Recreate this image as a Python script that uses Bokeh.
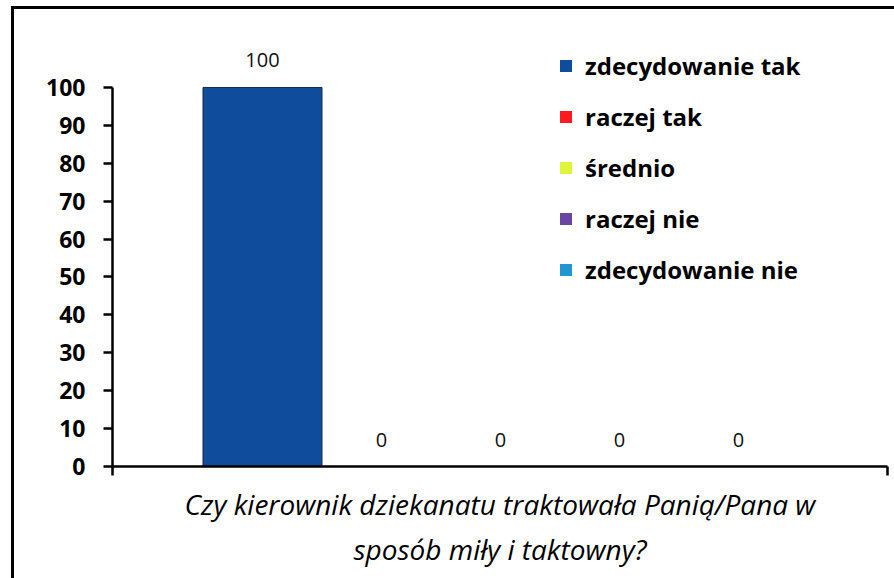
from bokeh.plotting import figure
from bokeh.models import (ColumnDataSource, Range1d, FixedTicker, Legend, LegendItem, LabelSet)
from bokeh.core.properties import value
from bokeh.layouts import column
from bokeh.embed import file_html
from bokeh.resources import INLINE

# ---- data ----
series = ["zdecydowanie tak", "raczej tak", "średnio", "raczej nie", "zdecydowanie nie"]
values = [100, 0, 0, 0, 0]
colors = ["#0F4C9C", "#FF1A22", "#DDF53A", "#6A45A2", "#2196D3"]
question = ["Czy kierownik dziekanatu traktowała Panią/Pana w", "sposób miły i taktowny?"]
y_ticks = [0, 10, 20, 30, 40, 50, 60, 70, 80, 90, 100]

FONT = "Open Sans"

x_pos = list(range(len(series)))
src = ColumnDataSource(dict(x=x_pos, top=values, color=colors, name=series,
                            lbl=[str(v) for v in values]))

x_start, x_end = -1.2605, 5.2521
p = figure(width=880, height=569, output_backend="svg", toolbar_location=None,
           x_range=Range1d(x_start, x_end), y_range=Range1d(0, 120.58),
           min_border_left=98, min_border_right=7, min_border_top=0,
           min_border_bottom=112)
p.outline_line_color = None
p.grid.visible = False
p.background_fill_color = "white"

bars = p.vbar(x="x", top="top", width=1.0, fill_color="color", line_color=None, source=src)
p.vbar(x="x", top="top", width=1.0, fill_alpha=0, line_color="#1b2a44", line_width=1, source=src)

labels = LabelSet(x="x", y="top", text="lbl", source=src, y_offset=27,
                  text_align="center", text_baseline="middle",
                  text_font=value(FONT), text_font_size=value("20px"),
                  text_color="#111111")
p.add_layout(labels)

# y axis
ya = p.yaxis[0]
ya.ticker = FixedTicker(ticks=y_ticks)
ya.bounds = (0, 100)
ya.axis_line_width = 2.5
ya.major_tick_line_width = 2.5
ya.major_tick_out = 9
ya.major_tick_in = 0
ya.minor_tick_line_color = None
ya.major_label_standoff = 18
ya.major_label_text_font = FONT
ya.major_label_text_font_style = "bold"
ya.major_label_text_font_size = "23px"
ya.major_label_text_color = "#000000"

# x axis: only end tick marks (minor ticks), question as axis label
xa = p.xaxis[0]
xa.ticker = FixedTicker(ticks=[], minor_ticks=[x_start, x_end])
xa.axis_line_width = 2.5
xa.minor_tick_line_width = 2.5
xa.minor_tick_line_color = "black"
xa.minor_tick_out = 9
xa.minor_tick_in = 0
xa.major_tick_line_color = None
xa.axis_label = "\n".join(question)
xa.axis_label_text_font = FONT
xa.axis_label_text_font_style = "italic"
xa.axis_label_text_font_size = "28px"
xa.axis_label_text_color = "#000000"
xa.axis_label_standoff = 9

items = [LegendItem(label=series[i], renderers=[bars], index=i) for i in range(len(series))]
legend = Legend(items=items, location=(446, 180), orientation="vertical",
                border_line_color=None, background_fill_alpha=0,
                padding=0, margin=0, spacing=18,
                glyph_width=15, glyph_height=15, label_height=32,
                label_standoff=12,
                label_text_font=FONT, label_text_font_style="bold",
                label_text_font_size="24px", label_text_color="#000000")
p.add_layout(legend, "center")

layout = column(p, styles={"margin-left": "11px", "margin-top": "6px",
                           "border-top": "3px solid black", "border-left": "3px solid black"})
open("out.html", "w").write(file_html(layout, INLINE))
